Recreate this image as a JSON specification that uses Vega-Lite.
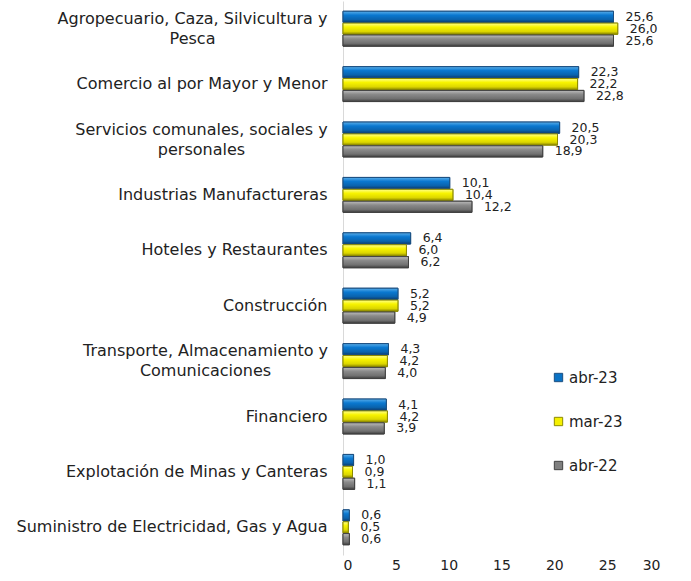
{
  "$schema": "https://vega.github.io/schema/vega-lite/v6.json",
  "width": 317,
  "height": 554,
  "autosize": {"type": "none"},
  "padding": {"left": 343, "top": 1, "right": 31, "bottom": 26},
  "background": "white",
  "config": {
    "font": "DejaVu Sans",
    "view": {"stroke": null},
    "locale": {"number": {"decimal": ",", "thousands": ".", "grouping": [3], "currency": ["", "€"]}}
  },
  "data": {
    "values": [
      {"sector": "Agropecuario, Caza, Silvicultura y|Pesca", "serie": "abr-23", "valor": 25.6},
      {"sector": "Agropecuario, Caza, Silvicultura y|Pesca", "serie": "mar-23", "valor": 26.0},
      {"sector": "Agropecuario, Caza, Silvicultura y|Pesca", "serie": "abr-22", "valor": 25.6},
      {"sector": "Comercio al por Mayor y Menor", "serie": "abr-23", "valor": 22.3},
      {"sector": "Comercio al por Mayor y Menor", "serie": "mar-23", "valor": 22.2},
      {"sector": "Comercio al por Mayor y Menor", "serie": "abr-22", "valor": 22.8},
      {"sector": "Servicios comunales, sociales y|personales", "serie": "abr-23", "valor": 20.5},
      {"sector": "Servicios comunales, sociales y|personales", "serie": "mar-23", "valor": 20.3},
      {"sector": "Servicios comunales, sociales y|personales", "serie": "abr-22", "valor": 18.9},
      {"sector": "Industrias Manufactureras", "serie": "abr-23", "valor": 10.1},
      {"sector": "Industrias Manufactureras", "serie": "mar-23", "valor": 10.4},
      {"sector": "Industrias Manufactureras", "serie": "abr-22", "valor": 12.2},
      {"sector": "Hoteles y Restaurantes", "serie": "abr-23", "valor": 6.4},
      {"sector": "Hoteles y Restaurantes", "serie": "mar-23", "valor": 6.0},
      {"sector": "Hoteles y Restaurantes", "serie": "abr-22", "valor": 6.2},
      {"sector": "Construcción", "serie": "abr-23", "valor": 5.2},
      {"sector": "Construcción", "serie": "mar-23", "valor": 5.2},
      {"sector": "Construcción", "serie": "abr-22", "valor": 4.9},
      {"sector": "Transporte, Almacenamiento y|Comunicaciones", "serie": "abr-23", "valor": 4.3},
      {"sector": "Transporte, Almacenamiento y|Comunicaciones", "serie": "mar-23", "valor": 4.2},
      {"sector": "Transporte, Almacenamiento y|Comunicaciones", "serie": "abr-22", "valor": 4.0},
      {"sector": "Financiero", "serie": "abr-23", "valor": 4.1},
      {"sector": "Financiero", "serie": "mar-23", "valor": 4.2},
      {"sector": "Financiero", "serie": "abr-22", "valor": 3.9},
      {"sector": "Explotación de Minas y Canteras", "serie": "abr-23", "valor": 1.0},
      {"sector": "Explotación de Minas y Canteras", "serie": "mar-23", "valor": 0.9},
      {"sector": "Explotación de Minas y Canteras", "serie": "abr-22", "valor": 1.1},
      {"sector": "Suministro de Electricidad, Gas y Agua", "serie": "abr-23", "valor": 0.6},
      {"sector": "Suministro de Electricidad, Gas y Agua", "serie": "mar-23", "valor": 0.5},
      {"sector": "Suministro de Electricidad, Gas y Agua", "serie": "abr-22", "valor": 0.6}
    ]
  },
  "encoding": {
    "y": {
      "field": "sector", "type": "nominal", "sort": null,
      "scale": {"paddingInner": 0.37, "paddingOuter": 0.185},
      "axis": {
        "title": null, "ticks": false, "domainColor": "#d9d9d9", "domainWidth": 1,
        "labelFontSize": 16, "labelColor": "#222222",
        "labelLineHeight": 20, "labelLimit": 400,
        "labelOffset": {"condition": {"test": "indexof(datum.value, '|') >= 0", "value": -10}, "value": 0},
        "labelAlign": {"condition": {"test": "indexof(datum.value, '|') >= 0", "value": "center"}, "value": "right"},
        "labelPadding": {"condition": [
          {"test": "indexof(datum.value, 'Agropecuario') == 0", "value": 151},
          {"test": "indexof(datum.value, 'Servicios') == 0", "value": 142},
          {"test": "indexof(datum.value, 'Transporte') == 0", "value": 138}
        ], "value": 16},
        "labelExpr": "split(datum.label, '|')"
      }
    },
    "yOffset": {"field": "serie", "type": "nominal", "sort": ["abr-23", "mar-23", "abr-22"], "scale": {"paddingInner": 0.06}},
    "x": {
      "field": "valor", "type": "quantitative",
      "scale": {"domain": [0, 30]},
      "axis": {
        "title": null, "values": [0, 5, 10, 15, 20, 25, 30], "grid": false, "domain": false,
        "ticks": false, "labelFontSize": 14, "labelColor": "#222222", "labelPadding": 3,
        "format": "d"
      }
    }
  },
  "layer": [
    {
      "mark": {"type": "bar", "strokeWidth": 1},
      "encoding": {
        "color": {
          "field": "serie", "type": "nominal",
          "sort": ["abr-23", "mar-23", "abr-22"],
          "scale": {"domain": ["abr-23", "mar-23", "abr-22"], "range": ["#0a72c4", "#f5f000", "#7f7f7f"]},
          "legend": {
            "title": null, "orient": "none", "legendX": 208, "legendY": 369,
            "symbolType": "square", "symbolSize": 70, "symbolStrokeWidth": 1,
            "labelFontSize": 15, "labelColor": "#222222", "rowPadding": 28, "labelOffset": 3
          }
        },
        "stroke": {
          "field": "serie", "type": "nominal",
          "scale": {"domain": ["abr-23", "mar-23", "abr-22"], "range": ["#1c4f80", "#8c8a00", "#404040"]},
          "legend": null
        }
      }
    },
    {
      "transform": [{"filter": "datum.serie == 'abr-23'"}],
      "mark": {
        "type": "bar", "stroke": "#1c4f80", "strokeWidth": 1,
        "color": {"gradient": "linear", "x1": 0, "y1": 0, "x2": 0, "y2": 1,
          "stops": [{"offset": 0, "color": "#5aaeea"}, {"offset": 0.35, "color": "#0a78d0"}, {"offset": 0.75, "color": "#0a62ac"}, {"offset": 1, "color": "#0b3c6e"}]}
      },
      "encoding": {}
    },
    {
      "transform": [{"filter": "datum.serie == 'mar-23'"}],
      "mark": {
        "type": "bar", "stroke": "#8c8a00", "strokeWidth": 1,
        "color": {"gradient": "linear", "x1": 0, "y1": 0, "x2": 0, "y2": 1,
          "stops": [{"offset": 0, "color": "#ffff90"}, {"offset": 0.35, "color": "#f8f400"}, {"offset": 0.75, "color": "#dcd600"}, {"offset": 1, "color": "#8a8500"}]}
      },
      "encoding": {}
    },
    {
      "transform": [{"filter": "datum.serie == 'abr-22'"}],
      "mark": {
        "type": "bar", "stroke": "#404040", "strokeWidth": 1,
        "color": {"gradient": "linear", "x1": 0, "y1": 0, "x2": 0, "y2": 1,
          "stops": [{"offset": 0, "color": "#bdbdbd"}, {"offset": 0.35, "color": "#8a8a8a"}, {"offset": 0.75, "color": "#707070"}, {"offset": 1, "color": "#3d3d3d"}]}
      },
      "encoding": {}
    },
    {
      "mark": {"type": "text", "align": "left", "baseline": "middle", "dx": 12, "fontSize": 12.5, "color": "#222222"},
      "encoding": {
        "text": {"field": "valor", "type": "quantitative", "format": ".1f"}
      }
    }
  ]
}
